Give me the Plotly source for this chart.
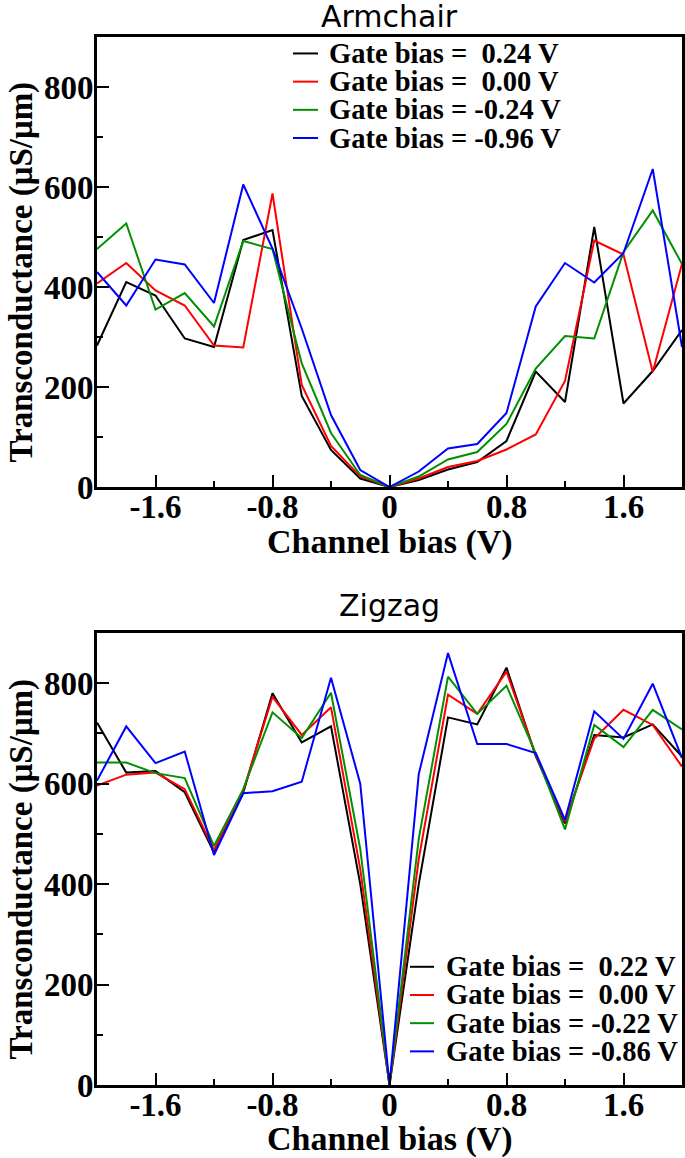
import plotly.graph_objects as go

# ---------------- data ----------------
channel_bias = [-2.0, -1.8, -1.6, -1.4, -1.2, -1.0, -0.8, -0.6, -0.4, -0.2, 0.0,
                0.2, 0.4, 0.6, 0.8, 1.0, 1.2, 1.4, 1.6, 1.8, 2.0]

arm_labels = ["Gate bias =\u00a0\u00a00.24 V", "Gate bias =\u00a0\u00a00.00 V",
              "Gate bias = -0.24 V", "Gate bias = -0.96 V"]
arm_p024 = [283, 410, 383, 297, 280, 494, 514, 182, 74, 17, 0, 14, 35, 50, 92, 231, 170, 520, 167, 232, 314]
arm_p000 = [407, 448, 393, 363, 283, 279, 587, 204, 82, 21, 0, 17, 40, 52, 75, 105, 212, 493, 465, 230, 446]
arm_m024 = [476, 527, 355, 388, 321, 492, 476, 247, 108, 24, 0, 21, 55, 70, 126, 237, 302, 297, 470, 553, 446]
arm_m096 = [430, 363, 455, 445, 368, 605, 477, 317, 144, 34, 0, 31, 77, 86, 148, 361, 448, 409, 468, 636, 280]

zz_labels = ["Gate bias =\u00a0\u00a00.22 V", "Gate bias =\u00a0\u00a00.00 V",
             "Gate bias = -0.22 V", "Gate bias = -0.86 V"]
zz_p022 = [722, 622, 625, 583, 463, 582, 780, 682, 714, 400, 0, 400, 732, 718, 831, 655, 521, 697, 692, 718, 654]
zz_p000 = [596, 618, 622, 589, 468, 586, 773, 697, 752, 430, 0, 450, 777, 739, 823, 657, 525, 690, 747, 717, 634]
zz_m022 = [642, 642, 621, 611, 476, 589, 742, 691, 781, 470, 0, 490, 813, 739, 795, 660, 509, 717, 673, 747, 708]
zz_m086 = [606, 714, 641, 664, 458, 581, 585, 604, 811, 600, 0, 619, 860, 679, 679, 661, 528, 744, 689, 799, 651]

x_tickvals = [-1.6, -0.8, 0, 0.8, 1.6]
x_ticktext = ["-1.6", "-0.8", "0", "0.8", "1.6"]
x_minorvals = [-2.0, -1.2, -0.4, 0.4, 1.2, 2.0]
y_tickvals = [0, 200, 400, 600, 800]
y_ticktext = ["0", "200", "400", "600", "800"]
y_minorvals = [100, 300, 500, 700]

panel_titles = ["Armchair", "Zigzag"]
x_title = "Channel bias (V)"
y_title = "Transconductance (\u03bcS/\u03bcm)"

colors = ["#000000", "#ff0000", "#009000", "#0000ff"]

# ---------------- figure ----------------
fig = go.Figure()

arm_series = [arm_p024, arm_p000, arm_m024, arm_m096]
zz_series = [zz_p022, zz_p000, zz_m022, zz_m086]

for name, ys, c in zip(arm_labels, arm_series, colors):
    fig.add_trace(go.Scatter(x=channel_bias, y=ys, mode="lines", name=name,
                             line=dict(color=c, width=2), xaxis="x", yaxis="y",
                             showlegend=False))
for name, ys, c in zip(zz_labels, zz_series, colors):
    fig.add_trace(go.Scatter(x=channel_bias, y=ys, mode="lines", name=name,
                             line=dict(color=c, width=2), xaxis="x2", yaxis="y2",
                             showlegend=False))

tickfont = dict(family="Liberation Serif", size=33, color="black", weight="bold")

def xaxis_cfg(anchor):
    return dict(domain=[0, 1], anchor=anchor, range=[-2, 2], automargin=False,
                tickmode="array", tickvals=x_tickvals, ticktext=x_ticktext,
                ticks="inside", ticklen=12, tickwidth=2, tickcolor="black",
                minor=dict(tickmode="array", tickvals=x_minorvals, ticks="inside",
                           ticklen=6, tickwidth=2, tickcolor="black"),
                showline=True, linewidth=3, linecolor="black", mirror=True,
                showgrid=False, zeroline=False, tickfont=tickfont,
                ticklabelstandoff=-12)

def yaxis_cfg(anchor, dom):
    return dict(domain=dom, anchor=anchor, range=[0, 900], automargin=False,
                tickmode="array", tickvals=y_tickvals, ticktext=y_ticktext,
                ticks="inside", ticklen=12, tickwidth=2, tickcolor="black",
                minor=dict(tickmode="array", tickvals=y_minorvals, ticks="inside",
                           ticklen=6, tickwidth=2, tickcolor="black"),
                showline=True, linewidth=3, linecolor="black", mirror=True,
                showgrid=False, zeroline=False, tickfont=tickfont,
                ticklabelstandoff=-6)

fig.update_layout(
    width=685, height=1158,
    margin=dict(l=97, r=3, t=37, b=73, autoexpand=False),
    paper_bgcolor="white", plot_bgcolor="white",
    xaxis=xaxis_cfg("y"),
    yaxis=yaxis_cfg("x", [0.5706, 1.0]),
    xaxis2=xaxis_cfg("y2"),
    yaxis2=yaxis_cfg("x2", [0.0, 0.4313]),
    showlegend=False,
)

annotations = []
shapes = []
titlefont = dict(family="DejaVu Sans", size=30, color="black")
axtitlefont = dict(family="Liberation Serif", size=34, color="black", weight="bold")
ytitlefont = dict(family="Liberation Serif", size=33, color="black", weight="bold")
legfont = dict(family="Liberation Serif", size=28.5, color="black", weight="bold")

# panel titles
for t, yy in zip(panel_titles, [1.0191, 0.4571]):
    annotations.append(dict(text=t, x=0.5, y=yy, xref="paper", yref="paper",
                            xanchor="center", yanchor="middle", showarrow=False,
                            font=titlefont))
# axis titles
for yy in [0.5181, -0.0515]:
    annotations.append(dict(text=x_title, x=0.5, y=yy, xref="paper", yref="paper",
                            xanchor="center", yanchor="middle", showarrow=False,
                            font=axtitlefont))
for yy in [0.7758, 0.2061]:
    annotations.append(dict(text=y_title, x=-0.1291, y=yy, xref="paper", yref="paper",
                            xanchor="center", yanchor="middle", showarrow=False,
                            textangle=-90, font=ytitlefont))

# custom legends
leg_specs = [
    (arm_labels, 0.3350, 0.3778, 0.3932, [0.9843, 0.9574, 0.9305, 0.9036]),
    (zz_labels, 0.5350, 0.5761, 0.5927, [0.1128, 0.0859, 0.0590, 0.0321]),
]
for labels, lx0, lx1, tx, rows in leg_specs:
    for lab, c, ry in zip(labels, colors, rows):
        shapes.append(dict(type="line", xref="paper", yref="paper",
                           x0=lx0, x1=lx1, y0=ry, y1=ry,
                           line=dict(color=c, width=2)))
        annotations.append(dict(text=lab, x=tx, y=ry, xref="paper", yref="paper",
                                xanchor="left", yanchor="middle", showarrow=False,
                                font=legfont))

fig.update_layout(annotations=annotations, shapes=shapes)

fig.write_html("out.html", config={"displayModeBar": False},
               post_script="document.body.style.margin='0';document.body.style.overflow='hidden';")
